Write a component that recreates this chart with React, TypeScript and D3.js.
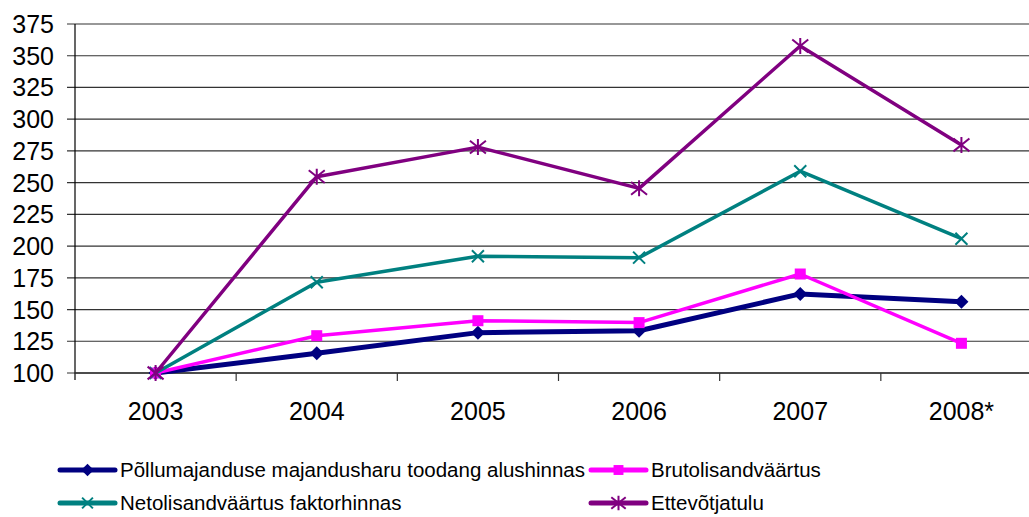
import React from "react";
import * as d3 from "d3";

const years = ["2003", "2004", "2005", "2006", "2007", "2008*"];
const yTicks = [100, 125, 150, 175, 200, 225, 250, 275, 300, 325, 350, 375];

const seriesNames = [
  "Põllumajanduse majandusharu toodang alushinnas",
  "Brutolisandväärtus",
  "Netolisandväärtus faktorhinnas",
  "Ettevõtjatulu",
];
const toodang = [100, 115.5, 131.8, 133.3, 162.3, 156.2];
const bruto = [100, 129.4, 141.2, 139.7, 178, 123.4];
const neto = [100, 171.5, 192, 190.9, 259, 205.8];
const ettevotjatulu = [100, 254.7, 278, 245.5, 357.7, 279.7];

const W = 1029;
const H = 517;
const plotLeft = 75;
const plotRight = 1042;
const plotTop = 24;
const plotBottom = 373;

type Marker = "diamond" | "square" | "x" | "asterisk";
const series: { name: string; values: number[]; color: string; width: number; marker: Marker }[] = [
  { name: seriesNames[0], values: toodang, color: "#000080", width: 5, marker: "diamond" },
  { name: seriesNames[1], values: bruto, color: "#FF00FF", width: 3.5, marker: "square" },
  { name: seriesNames[2], values: neto, color: "#008080", width: 3.5, marker: "x" },
  { name: seriesNames[3], values: ettevotjatulu, color: "#800080", width: 3.5, marker: "asterisk" },
];

function MarkerShape({ type, x, y, color, s = 1 }: { type: Marker; x: number; y: number; color: string; s?: number }) {
  if (type === "diamond") {
    const r = 7 * s;
    return <path d={`M${x},${y - r}L${x + r},${y}L${x},${y + r}L${x - r},${y}Z`} fill={color} />;
  }
  if (type === "square") {
    const r = 5.5 * s;
    return <rect x={x - r} y={y - r} width={2 * r} height={2 * r} fill={color} />;
  }
  if (type === "x") {
    const r = 6 * s;
    return (
      <path d={`M${x - r},${y - r}L${x + r},${y + r}M${x - r},${y + r}L${x + r},${y - r}`} stroke={color} strokeWidth={2} />
    );
  }
  const r = 8 * s;
  return (
    <path
      d={`M${x - r},${y - r * 0.8}L${x + r},${y + r * 0.8}M${x - r},${y + r * 0.8}L${x + r},${y - r * 0.8}M${x},${y - r}L${x},${y + r}`}
      stroke={color}
      strokeWidth={2}
    />
  );
}

export default function App() {
  const x = d3.scalePoint<string>().domain(years).range([plotLeft, plotRight]).padding(0.5);
  const y = d3.scaleLinear().domain([100, 375]).range([plotBottom, plotTop]);
  const line = d3
    .line<number>()
    .x((_, i) => x(years[i]) as number)
    .y((d) => y(d));
  const step = x.step();
  const font = "'Liberation Sans', Arial, sans-serif";

  const legendItems = [
    { s: series[0], lx: 60, ly: 470 },
    { s: series[1], lx: 591, ly: 470 },
    { s: series[2], lx: 60, ly: 503 },
    { s: series[3], lx: 591, ly: 503 },
  ];

  return (
    <svg width={W} height={H} style={{ position: "absolute", left: 0, top: 0 }} fontFamily={font}>
      <rect width={W} height={H} fill="#fff" />
      {yTicks.map((t) => (
        <g key={t}>
          <line x1={plotLeft - 8} x2={plotRight} y1={y(t)} y2={y(t)} stroke="#333" strokeWidth={1.2} />
          <text x={54} y={y(t)} dy="0.36em" textAnchor="end" fontSize={25} fill="#000">
            {t}
          </text>
        </g>
      ))}
      <line x1={plotLeft} x2={plotLeft} y1={plotTop} y2={plotBottom + 7} stroke="#000" strokeWidth={1.2} />
      {years.map((yr, i) => (
        <line
          key={"t" + yr}
          x1={plotLeft + step * (i + 1)}
          x2={plotLeft + step * (i + 1)}
          y1={plotBottom}
          y2={plotBottom + 8}
          stroke="#333"
          strokeWidth={1.2}
        />
      ))}
      <line x1={plotLeft} x2={plotRight} y1={plotBottom} y2={plotBottom} stroke="#333" strokeWidth={1.5} />
      {years.map((yr) => (
        <text key={yr} x={x(yr)} y={420} textAnchor="middle" fontSize={25} fill="#000">
          {yr}
        </text>
      ))}
      {series.map((s) => (
        <g key={s.name}>
          <path d={line(s.values) || ""} fill="none" stroke={s.color} strokeWidth={s.width} strokeLinejoin="round" />
          {s.values.map((v, i) => (
            <MarkerShape key={i} type={s.marker} x={x(years[i]) as number} y={y(v)} color={s.color} />
          ))}
        </g>
      ))}
      {legendItems.map(({ s, lx, ly }) => (
        <g key={"l" + s.name}>
          <line x1={lx} x2={lx + 55} y1={ly} y2={ly} stroke={s.color} strokeWidth={5} strokeLinecap="round" />
          <MarkerShape type={s.marker} x={lx + 27.5} y={ly} color={s.color} s={0.9} />
          <text x={lx + 60} y={ly} dy="0.36em" fontSize={20.5} fill="#000">
            {s.name}
          </text>
        </g>
      ))}
    </svg>
  );
}
